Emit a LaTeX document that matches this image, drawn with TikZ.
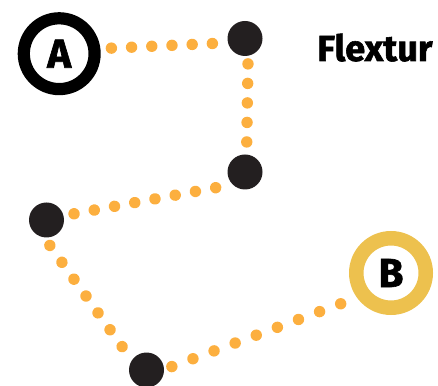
\documentclass[tikz,border=0pt]{standalone}
\usepackage{fontspec}
\setmainfont{Fira Sans}[BoldFeatures={FakeBold=1.6}]
\usepackage{xcolor}
\definecolor{dotorange}{HTML}{FCAF3F}
\definecolor{hubgray}{HTML}{231F20}
\definecolor{ringyellow}{HTML}{EDC14E}
\tikzset{
  hub/.style={circle, fill=hubgray, minimum size=0.70cm, inner sep=0},
  ring/.style={circle, draw=#1, fill=white, inner sep=0},
  dotlink/.style={dotorange, line width=0.228cm, line cap=round, dash pattern=on 0.01pt off #1cm},
}

\begin{document}
\begin{tikzpicture}
  \useasboundingbox (0, 0) rectangle (8.76, -7.72);

  % End points
  \node[ring=black, line width=0.244cm, minimum size=1.416cm, font=\bfseries\fontsize{23}{23}\selectfont] (pointA) at (1.184, -1.074) {A};
  \node[ring=ringyellow, line width=0.29cm, minimum size=1.39cm, font=\bfseries\fontsize{23}{23}\selectfont] (pointB) at (7.82, -5.46) {B};

  % Points in between
  \node[hub] (hubA) at (4.90, -0.77) {};
  \node[hub] (hubB) at (4.90, -3.44) {};
  \node[hub] (hubC) at (0.93, -4.40) {};
  \node[hub] (hubD) at (2.93, -7.40) {};

  \node[anchor=base west, inner sep=0, font=\bfseries\fontsize{20.6}{21}\selectfont] (title) at (6.34, -1.22) {Flextur};

  % Connect the points
  \draw[dotlink=0.404, shorten <=0.22cm, shorten >=0.2cm] (pointA.7) -- (hubA.194);
  \draw[dotlink=0.39, shorten <=0.156cm, shorten >=0.2cm] (hubA.-80) -- (hubB.85);
  \draw[dotlink=0.411, shorten <=0.34cm, shorten >=0.2cm] (hubB.225) -- (hubC.14);
  \draw[dotlink=0.414, shorten <=0.19cm, shorten >=0.2cm] (hubC.-97) -- (hubD.146);
  \draw[dotlink=0.45, shorten <=0.16cm, shorten >=0.2cm] (hubD.2) -- (pointB.216);
\end{tikzpicture}
\end{document}
